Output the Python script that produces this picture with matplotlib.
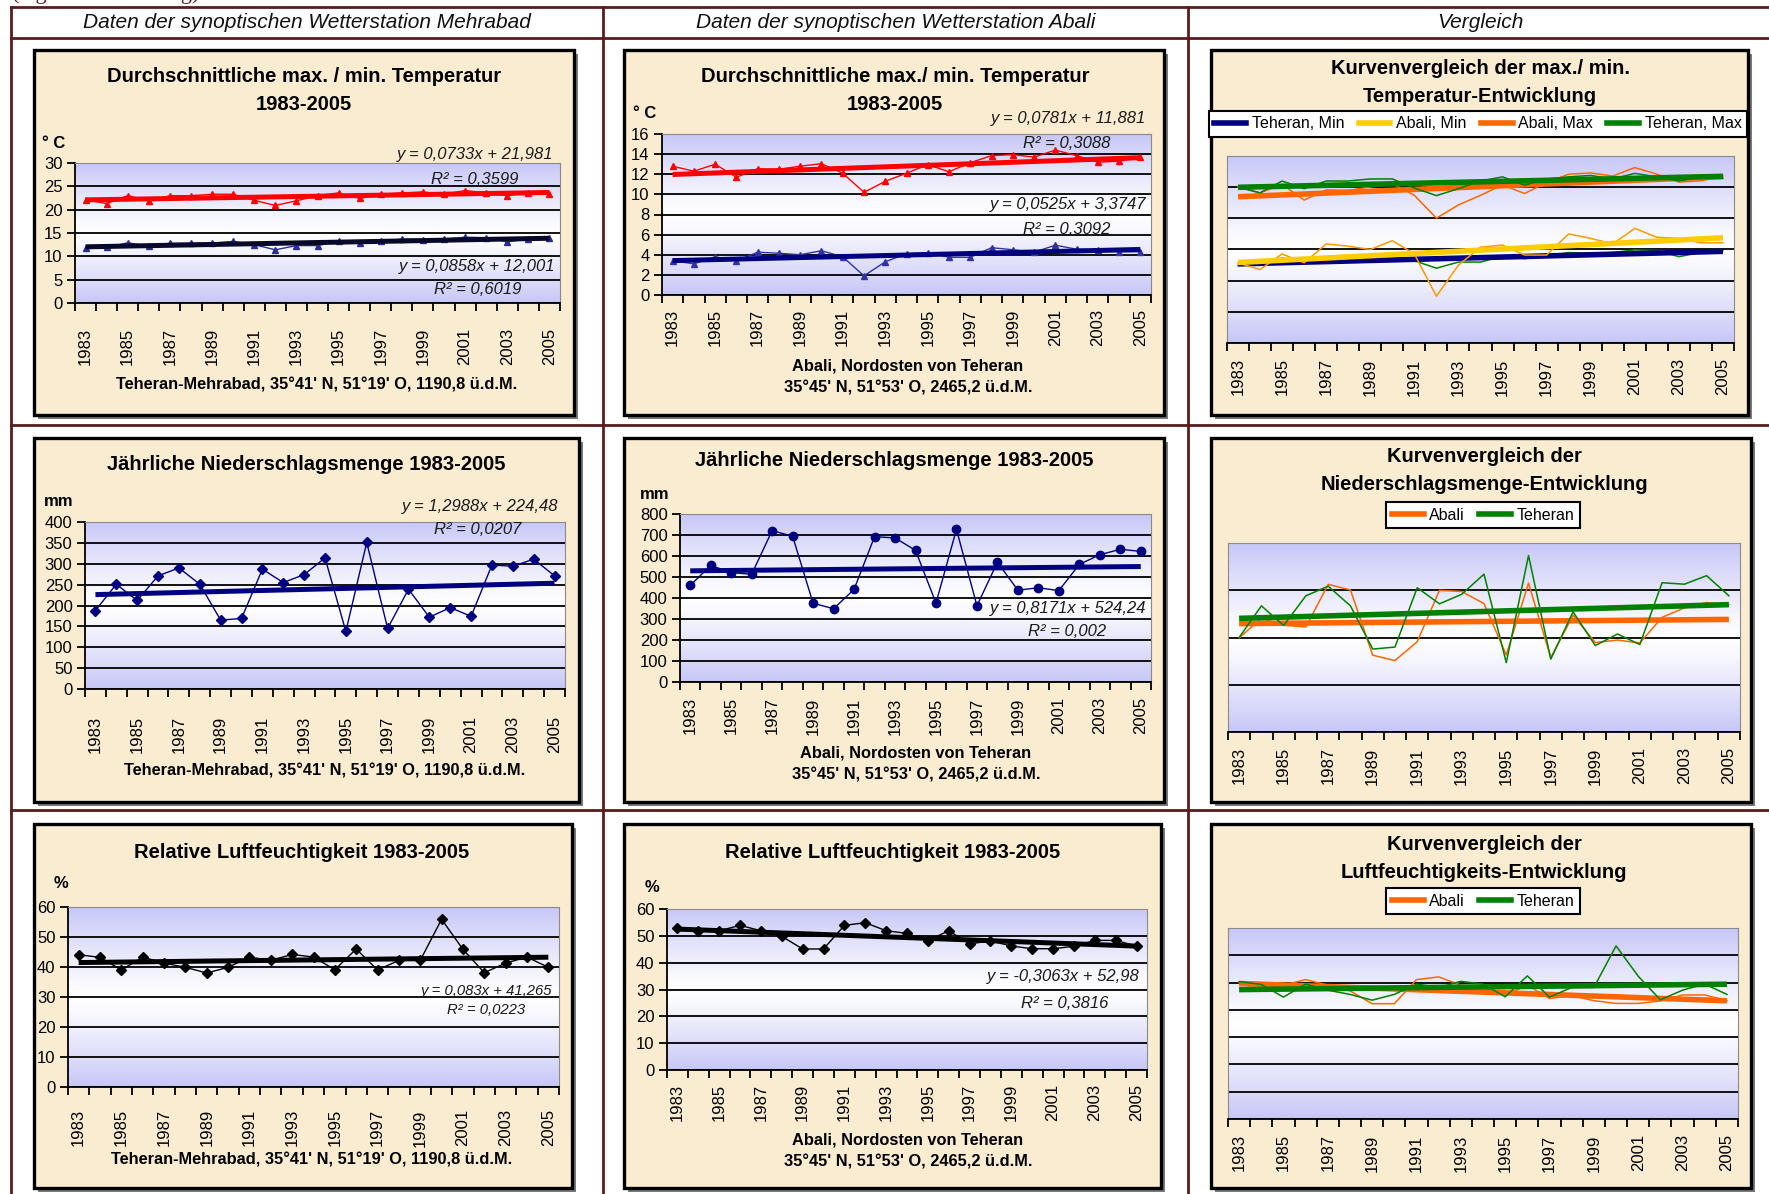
import numpy as np
import matplotlib.pyplot as plt
from matplotlib.patches import Rectangle
from matplotlib.lines import Line2D

W, H = 1769, 1194
plt.rcParams['font.family'] = ['Liberation Sans', 'DejaVu Sans']

years = list(range(1983, 2006))

# temperature, deg C
teh_tmax = [22.1, 21.3, 23.0, 21.9, 23.0, 23.0, 23.3, 23.3, 22.0, 20.9, 21.9, 23.0,
            23.6, 22.4, 23.3, 23.6, 23.8, 23.3, 24.1, 23.6, 23.0, 23.6, 23.4]
teh_tmin = [11.8, 11.9, 12.9, 12.2, 12.8, 12.8, 12.8, 13.2, 12.5, 11.4, 12.3, 12.3,
            13.2, 12.8, 13.2, 13.7, 13.6, 13.7, 14.1, 14.0, 13.1, 13.7, 14.0]
aba_tmax = [12.8, 12.3, 13.0, 11.7, 12.55, 12.5, 12.8, 13.05, 12.1, 10.2, 11.3, 12.1,
            12.95, 12.25, 13.15, 13.85, 13.95, 13.7, 14.4, 13.85, 13.2, 13.3, 13.7]
aba_tmin = [3.4, 3.1, 3.8, 3.4, 4.25, 4.15, 4.0, 4.4, 3.8, 1.9, 3.3, 4.1,
            4.2, 3.75, 3.75, 4.7, 4.5, 4.25, 4.95, 4.55, 4.5, 4.3, 4.3]
# precipitation, mm
teh_prec = [188, 251, 212, 271, 290, 251, 165, 169, 287, 255, 274, 314,
            138, 351, 145, 239, 172, 195, 174, 297, 294, 311, 271]
aba_prec = [460, 555, 521, 513, 721, 694, 375, 349, 441, 692, 686, 627,
            376, 727, 363, 570, 437, 449, 435, 560, 606, 632, 622]
# relative humidity, %
teh_hum = [44.1, 43.2, 39.0, 43.3, 41.3, 39.9, 38.0, 39.9, 43.3, 42.2, 44.2, 43.3,
           39.1, 46.0, 39.0, 42.2, 42.2, 55.9, 45.9, 38.1, 41.3, 43.3, 39.9]
aba_hum = [52.9, 51.9, 51.9, 53.9, 51.9, 49.8, 45.1, 45.1, 53.9, 54.9, 51.9, 50.9,
           48.2, 51.9, 47.0, 48.1, 46.2, 45.2, 45.2, 46.1, 48.3, 48.3, 46.2]

headers = ['Daten der synoptischen Wetterstation Mehrabad',
           'Daten der synoptischen Wetterstation Abali', 'Vergleich']
cap_teh = ['Teheran-Mehrabad, 35°41\' N, 51°19\' O, 1190,8 ü.d.M.']
cap_aba = ['Abali, Nordosten von Teheran', '35°45\' N, 51°53\' O, 2465,2 ü.d.M.']

x = np.arange(1, len(years) + 1)

BEIGE = '#faecd0'
MAROON = '#5a1c1c'
LAV = np.array([0.78, 0.78, 0.97])
tt = np.linspace(0, 1, 200)[:, None]
grad = 1 - (1 - LAV) * ((np.abs(tt - 0.5) * 2) ** 1.2)[..., None]

fig = plt.figure(figsize=(W / 100, H / 100), dpi=100)
fig.patch.set_facecolor('white')


def fx(px):
    return px / W


def fy(py):
    return 1 - py / H


def rect(x0, y0, x1, y1):
    return [x0 / W, 1 - y1 / H, (x1 - x0) / W, (y1 - y0) / H]


def put(px, py, s, **kw):
    kw.setdefault('ha', 'center')
    kw.setdefault('va', 'center')
    fig.text(fx(px), fy(py), s, **kw)


def box(x0, y0, x1, y1):
    fig.add_artist(Rectangle((fx(x0 + 4), fy(y1 + 4)), (x1 - x0) / W, (y1 - y0) / H,
                             transform=fig.transFigure, fc='#7a7a7a', ec='none', zorder=-3))
    fig.add_artist(Rectangle((fx(x0), fy(y1)), (x1 - x0) / W, (y1 - y0) / H,
                             transform=fig.transFigure, fc=BEIGE, ec='black', lw=2.4,
                             zorder=-2))


def plot_area(r, ymax, step, pad, ylabels=True):
    ax = fig.add_axes(rect(*r))
    ax.imshow(grad, extent=[0, 1, 0, 1], transform=ax.transAxes, aspect='auto', zorder=-1)
    ax.set_xlim(0.5, len(years) + 0.5)
    ax.set_ylim(0, ymax)
    ax.set_yticks(np.arange(0, ymax + step / 2, step))
    ax.grid(axis='y', color='black', lw=1.3)
    ax.set_axisbelow(True)
    ax.set_xticks(np.arange(0.5, len(years) + 1, 1))
    ax.set_xticklabels([])
    ax.set_xticks(x[::2], minor=True)
    ax.set_xticklabels([str(y) for y in years[::2]], minor=True, rotation=90, fontsize=12)
    ax.tick_params(axis='x', which='major', length=6, width=1.3, direction='out')
    ax.tick_params(axis='x', which='minor', length=0, pad=pad)
    if ylabels:
        ax.tick_params(axis='y', length=6, width=1.3, labelsize=12, pad=3)
        for s in ['left', 'bottom']:
            ax.spines[s].set_color('black')
            ax.spines[s].set_linewidth(1.3)
    else:
        ax.tick_params(axis='y', length=0, labelleft=False)
        ax.spines['left'].set_color('#8a8a8a')
        ax.spines['bottom'].set_color('black')
        ax.spines['bottom'].set_linewidth(1.3)
    for s in ['top', 'right']:
        ax.spines[s].set_color('#8a8a8a')
    return ax


def overlay(r, ylim):
    ax = fig.add_axes(rect(*r))
    ax.set_axis_off()
    ax.patch.set_alpha(0)
    ax.set_xlim(0.5, len(years) + 0.5)
    ax.set_ylim(*ylim)
    return ax


def trend(ax, y, color, lw=3.6):
    k, d = np.polyfit(x, y, 1)
    ax.plot(x, k * x + d, color=color, lw=lw, solid_capstyle='butt', zorder=3)


def eq(px, py, s, size=12, ha='right'):
    put(px, py, s, ha=ha, fontsize=size, style='italic', color='#1a1a1a')


def title(px, py, s, size=14.5):
    put(px, py, s, fontsize=size, fontweight='bold')


def caption(px, lines, py0):
    for i, s in enumerate(lines):
        put(px, py0 + 22 * i, s, fontsize=11.8, fontweight='bold')


def legend(handles_col, labels, r, ncol):
    lg = fig.legend([Line2D([], [], color=c, lw=4) for c in handles_col], labels,
                    loc='center', bbox_to_anchor=(fx((r[0] + r[2]) / 2), fy((r[1] + r[3]) / 2)),
                    ncol=ncol, fontsize=11.5, fancybox=False, edgecolor='black',
                    framealpha=1, handlelength=2.0, handletextpad=0.35,
                    columnspacing=0.9, borderaxespad=0, borderpad=0.35)
    lg.get_frame().set_linewidth(1.5)


# table frame
put(12, -1, '(eigene Bearbeitung)', ha='left', va='baseline', fontsize=16,
    family='Liberation Serif', color=MAROON)
for yy in [7, 38, 425, 810]:
    fig.add_artist(Line2D([fx(11), 1], [fy(yy), fy(yy)], transform=fig.transFigure,
                          color=MAROON, lw=2, zorder=-4))
for xx in [11, 603, 1188]:
    fig.add_artist(Line2D([fx(xx), fx(xx)], [fy(7), 0], transform=fig.transFigure,
                          color=MAROON, lw=2, zorder=-4))
for cx, s in zip([307, 896, 1480], headers):
    put(cx, 22, s, fontsize=15, style='italic', color='#111111')

# row 1: temperature
box(34, 50, 574, 415)
ax = plot_area((75, 163, 560, 303), 30, 5, 18)
ax.plot(x, teh_tmax, color='#ff0000', lw=1, marker='^', ms=5)
trend(ax, teh_tmax, '#ff0000')
ax.plot(x, teh_tmin, color='#2a2a99', lw=1, marker='^', ms=5)
trend(ax, teh_tmin, '#08082a')
title(304, 76, 'Durchschnittliche max. / min. Temperatur')
title(304, 104, '1983-2005')
put(54, 144, '° C', fontsize=12, fontweight='bold')
eq(553, 155, 'y = 0,0733x + 21,981')
eq(475, 180, 'R² = 0,3599', ha='center')
eq(555, 266, 'y = 0,0858x + 12,001')
eq(478, 290, 'R² = 0,6019', ha='center')
caption(317, cap_teh, 385)

box(624, 50, 1164, 415)
ax = plot_area((662, 134, 1151, 295), 16, 2, 10)
ax.plot(x, aba_tmax, color='#ff0000', lw=1, marker='^', ms=5)
trend(ax, aba_tmax, '#ff0000')
ax.plot(x, aba_tmin, color='#3333a0', lw=1, marker='^', ms=5)
trend(ax, aba_tmin, '#000080')
title(895, 76, 'Durchschnittliche max./ min. Temperatur')
title(895, 104, '1983-2005')
put(645, 114, '° C', fontsize=12, fontweight='bold')
eq(1146, 119, 'y = 0,0781x + 11,881')
eq(1067, 144, 'R² = 0,3088', ha='center')
eq(1146, 204, 'y = 0,0525x + 3,3747')
eq(1067, 229, 'R² = 0,3092', ha='center')
caption(908, cap_aba, 366)

box(1211, 50, 1748, 415)
r3 = (1227, 156, 1734, 343)
plot_area(r3, 6, 1, 11, ylabels=False)
comp_t = [(teh_tmin, (0.4, 27.9), '#008000', '#000080'),
          (aba_tmin, (-0.2, 8.2), '#ff9900', '#ffcc00'),
          (aba_tmax, (-0.16, 15.36), '#ff6600', '#ff6600'),
          (teh_tmax, (-0.3, 26.6), '#008000', '#008000')]
for ys, lim, thin, thick in comp_t:
    ov = overlay(r3, lim)
    ov.plot(x, ys, color=thin, lw=1.1)
    trend(ov, ys, thick, lw=4)
title(1480, 69, 'Kurvenvergleich der max./ min.')
title(1480, 97, 'Temperatur-Entwicklung')
legend(['#000080', '#ffcc00', '#ff6600', '#008000'],
       ['Teheran, Min', 'Abali, Min', 'Abali, Max', 'Teheran, Max'], (1213, 109, 1743, 139), 4)

# row 2: precipitation
box(34, 438, 579, 802)
ax = plot_area((85, 522, 565, 689), 400, 50, 19)
ax.plot(x, teh_prec, color='#000080', lw=1, marker='D', ms=5.5)
trend(ax, teh_prec, '#000080')
title(306, 464, 'Jährliche Niederschlagsmenge 1983-2005')
put(59, 501, 'mm', fontsize=12, fontweight='bold')
eq(558, 506, 'y = 1,2988x + 224,48')
eq(478, 530, 'R² = 0,0207', ha='center')
caption(325, cap_teh, 771)

box(624, 438, 1164, 802)
ax = plot_area((680, 514, 1151, 682), 800, 100, 11)
ax.plot(x, aba_prec, color='#000080', lw=1, marker='o', ms=6)
trend(ax, aba_prec, '#000080')
title(894, 461, 'Jährliche Niederschlagsmenge 1983-2005')
put(655, 494, 'mm', fontsize=12, fontweight='bold')
eq(1146, 608, 'y = 0,8171x + 524,24')
eq(1067, 632, 'R² = 0,002', ha='center')
caption(916, cap_aba, 753)

box(1211, 438, 1751, 802)
r6 = (1228, 543, 1740, 732)
plot_area(r6, 4, 1, 11, ylabels=False)
for ys, lim, col in [(aba_prec, (0, 923), '#ff6600'), (teh_prec, (0, 376), '#008000')]:
    ov = overlay(r6, lim)
    ov.plot(x, ys, color=col, lw=1.1)
    trend(ov, ys, col, lw=4)
title(1484, 457, 'Kurvenvergleich der')
title(1484, 485, 'Niederschlagsmenge-Entwicklung')
legend(['#ff6600', '#008000'], ['Abali', 'Teheran'], (1385, 500, 1581, 530), 2)

# row 3: humidity
box(34, 824, 572, 1188)
ax = plot_area((68, 907, 559, 1087), 60, 10, 16)
ax.plot(x, teh_hum, color='black', lw=1, marker='D', ms=5.5)
trend(ax, teh_hum, 'black')
title(302, 852, 'Relative Luftfeuchtigkeit 1983-2005')
put(61, 883, '%', fontsize=12, fontweight='bold')
eq(552, 991, 'y = 0,083x + 41,265', size=10.7)
eq(486, 1010, 'R² = 0,0223', size=10.7, ha='center')
caption(312, cap_teh, 1160)

box(624, 824, 1161, 1188)
ax = plot_area((667, 909, 1147, 1070), 60, 10, 10)
ax.plot(x, aba_hum, color='black', lw=1, marker='D', ms=5.5)
trend(ax, aba_hum, 'black')
title(893, 852, 'Relative Luftfeuchtigkeit 1983-2005')
put(652, 888, '%', fontsize=12, fontweight='bold')
eq(1140, 977, 'y = -0,3063x + 52,98')
eq(1065, 1003, 'R² = 0,3816', ha='center')
caption(908, cap_aba, 1140)

box(1211, 824, 1751, 1188)
r9 = (1228, 928, 1738, 1119)
plot_area(r9, 7, 1, 11, ylabels=False)
for ys, lim, col in [(aba_hum, (2.9, 72.8), '#ff6600'), (teh_hum, (-1.2, 61.8), '#008000')]:
    ov = overlay(r9, lim)
    ov.plot(x, ys, color=col, lw=1.1)
    trend(ov, ys, col, lw=4)
title(1484, 844, 'Kurvenvergleich der')
title(1484, 872, 'Luftfeuchtigkeits-Entwicklung')
legend(['#ff6600', '#008000'], ['Abali', 'Teheran'], (1385, 886, 1581, 916), 2)

fig.savefig('out.png', dpi=100)
